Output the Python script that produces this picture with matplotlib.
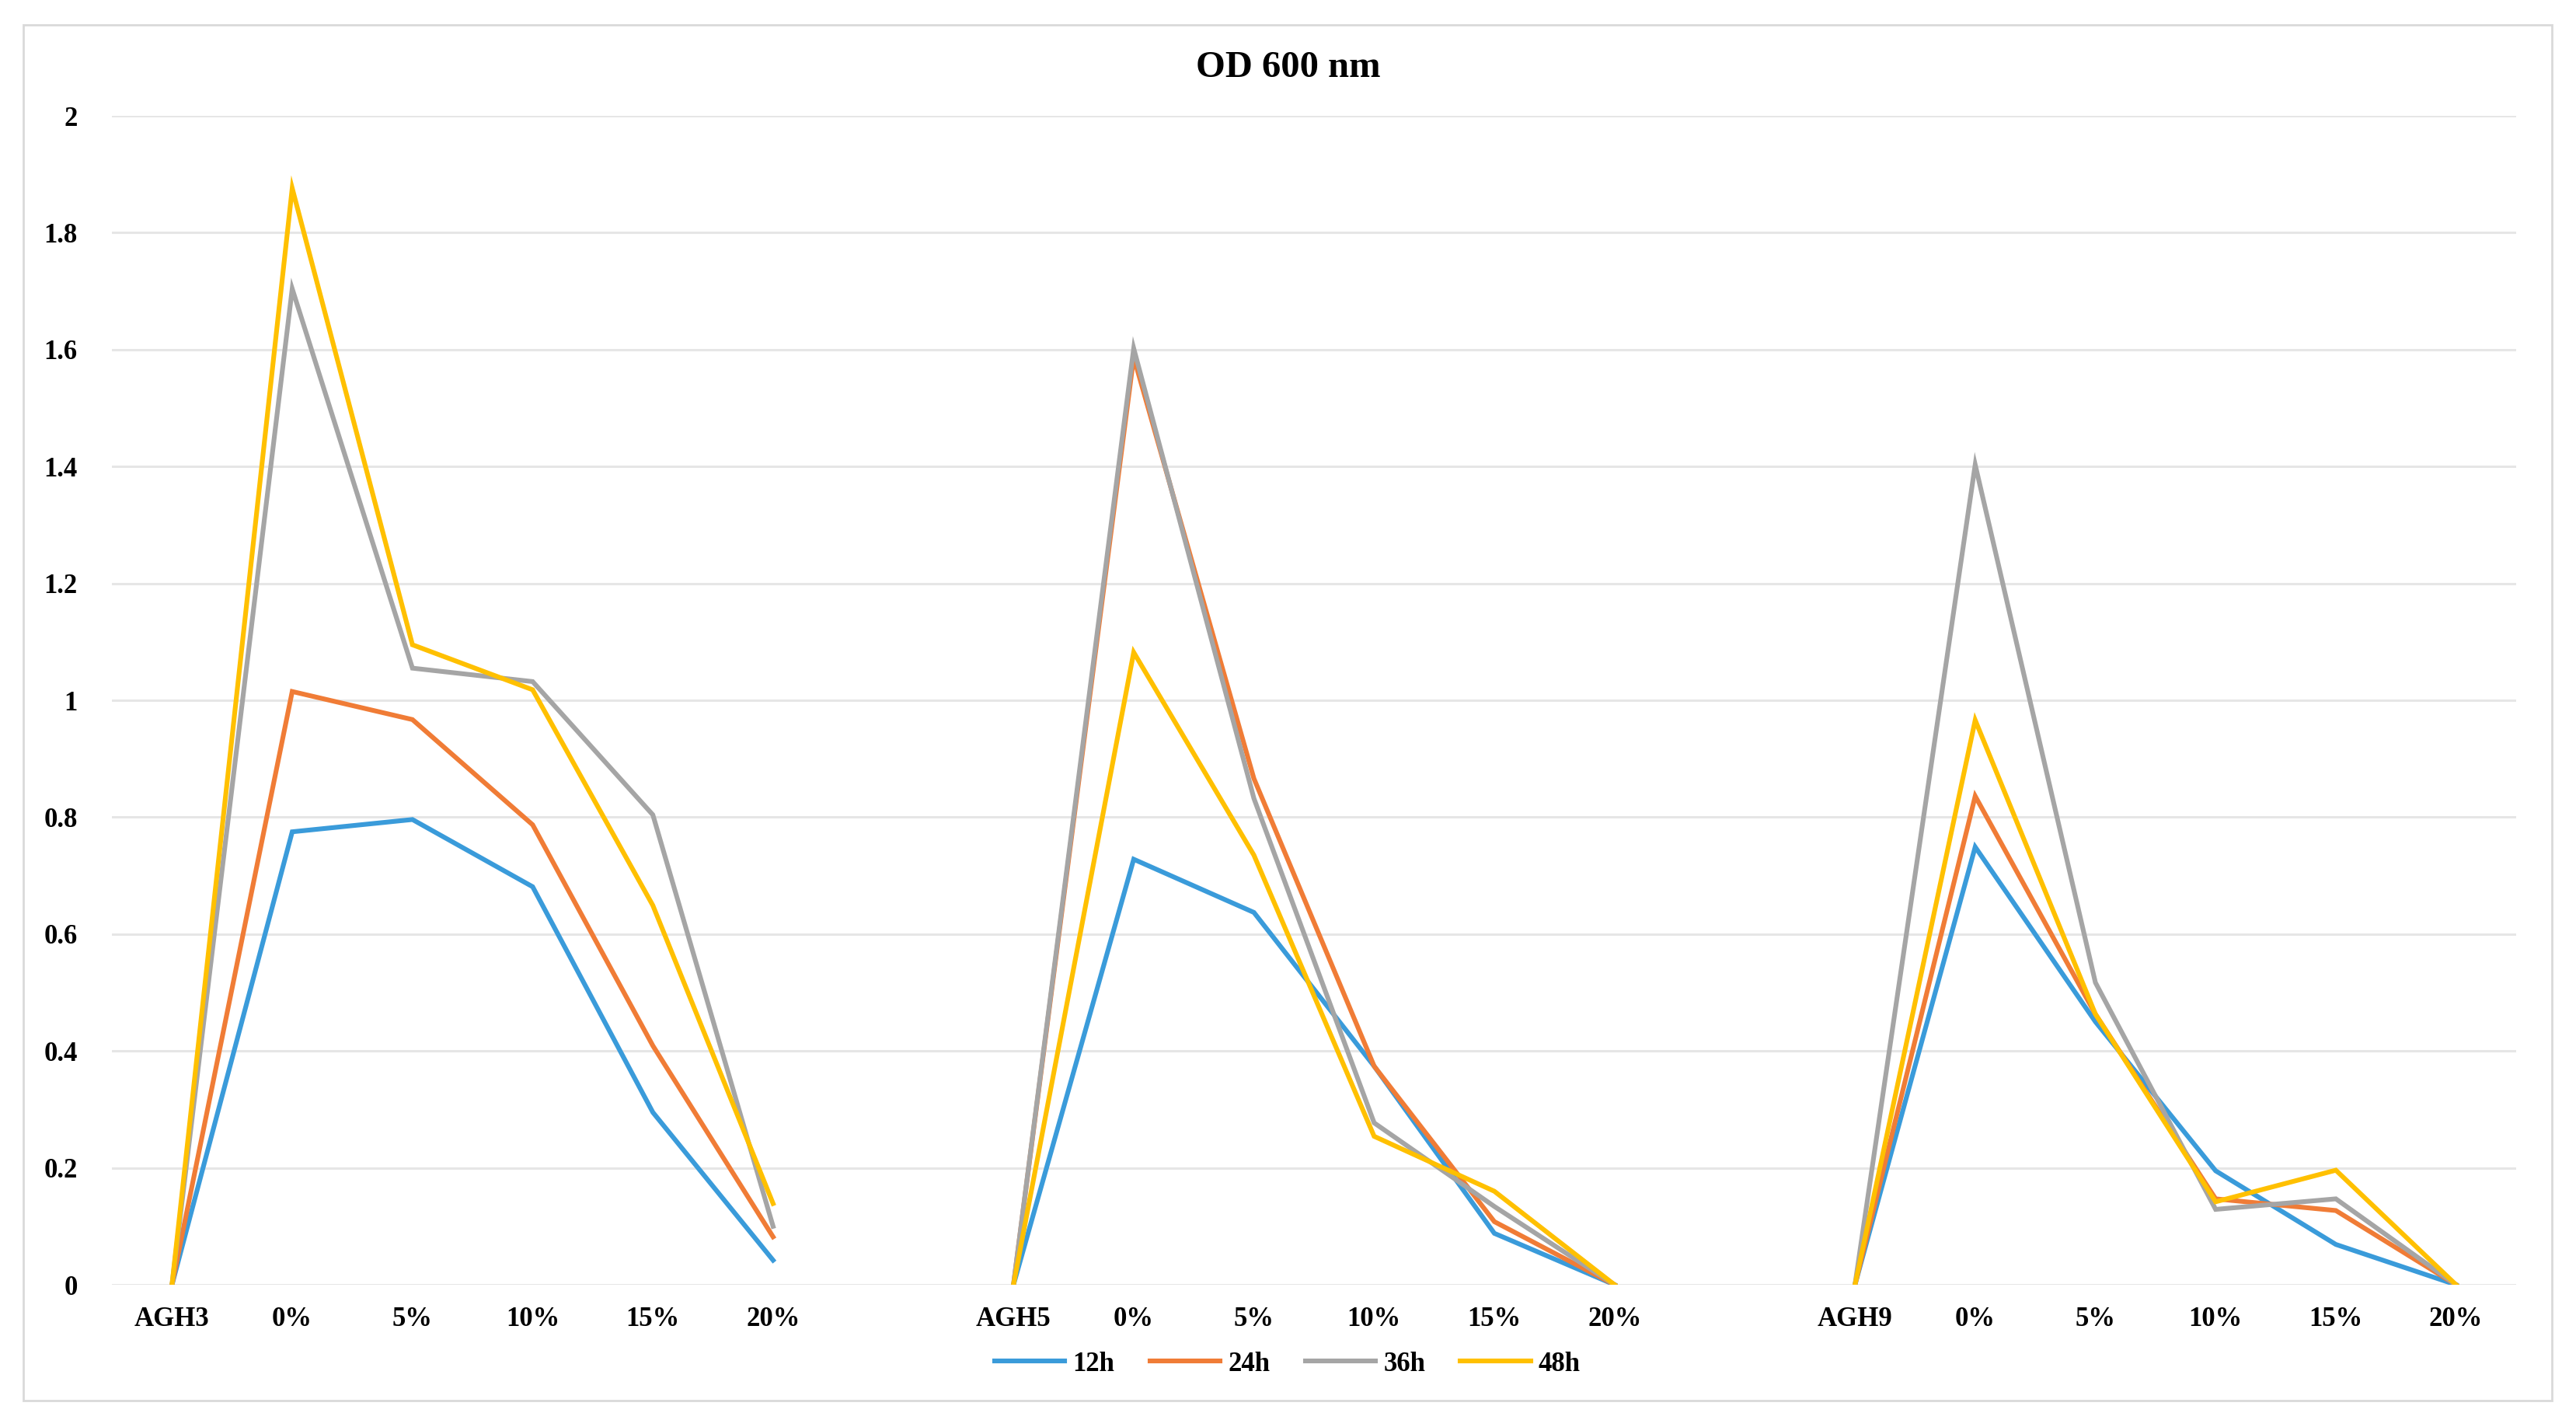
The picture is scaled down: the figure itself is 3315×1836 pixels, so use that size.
import numpy as np
import matplotlib
matplotlib.use("Agg")
import matplotlib.pyplot as plt
from matplotlib.patches import Rectangle

params = {'font.family': 'serif',
          'font.serif': ['Liberation Serif', 'DejaVu Serif'],
          'font.weight': 'bold',
          'font.size': 25}
matplotlib.rcParams.update(params)

# categories: three strains, each followed by salt levels, with a blank slot between groups
groups = ['AGH3', 'AGH5', 'AGH9']
levels = ['0%', '5%', '10%', '15%', '20%']

# OD600 values per series, one row per group: [strain, 0%, 5%, 10%, 15%, 20%]
od_12h = [[0, 0.775, 0.796, 0.681, 0.295, 0.042],
          [0, 0.728, 0.637, 0.374, 0.088, 0.0],
          [0, 0.749, 0.450, 0.195, 0.069, 0.0]]
od_24h = [[0, 1.015, 0.967, 0.787, 0.409, 0.082],
          [0, 1.587, 0.866, 0.374, 0.108, 0.0],
          [0, 0.836, 0.463, 0.147, 0.127, 0.0]]
od_36h = [[0, 1.704, 1.055, 1.032, 0.804, 0.100],
          [0, 1.602, 0.832, 0.277, 0.134, 0.0],
          [0, 1.403, 0.517, 0.129, 0.147, 0.0]]
od_48h = [[0, 1.876, 1.095, 1.018, 0.649, 0.139],
          [0, 1.082, 0.735, 0.254, 0.160, 0.0],
          [0, 0.966, 0.463, 0.142, 0.196, 0.0]]

series = [('12h', od_12h, '#3A9BDA'),
          ('24h', od_24h, '#F07C36'),
          ('36h', od_36h, '#A5A5A5'),
          ('48h', od_48h, '#FFC000')]

labels = []
for i, g in enumerate(groups):
    labels += [g] + levels
    if i < len(groups) - 1:
        labels.append('')


def flatten(rows):
    out = []
    for i, r in enumerate(rows):
        out += list(r)
        if i < len(rows) - 1:
            out.append(np.nan)
    return np.array(out, dtype=float)


W, H = 3315, 1836
fig = plt.figure(figsize=(W / 100, H / 100), dpi=100)
fig.patches.append(Rectangle((30 / W, 1 - 1802 / H), 3254 / W, 1770 / H,
                             transform=fig.transFigure, fill=False,
                             edgecolor='#D9D9D9', linewidth=2))

ax = fig.add_axes([144 / W, 1 - 1653 / H, (3238 - 144) / W, (1653 - 149) / H])
x = np.arange(len(labels))
for name, rows, col in series:
    ax.plot(x, flatten(rows), color=col, linewidth=4.4, label=name,
            solid_joinstyle='miter')

ax.set_xlim(-0.5, len(labels) - 0.5)
ax.set_ylim(0, 2)
ax.set_yticks(np.arange(0, 2.01, 0.2))
ax.set_yticklabels(['0', '0.2', '0.4', '0.6', '0.8', '1', '1.2', '1.4', '1.6', '1.8', '2'])
ax.set_xticks(x)
ax.set_xticklabels(labels)
ax.tick_params(length=0)
ax.tick_params(axis='y', pad=32)
ax.tick_params(axis='x', pad=20)
for s in ax.spines.values():
    s.set_visible(False)
ax.yaxis.grid(True, color='#E6E6E6', linewidth=2.2)
ax.set_axisbelow(True)

fig.text(0.5, 1 - 87 / H, 'OD 600 nm', ha='center', va='center', fontsize=35,
         fontweight='bold')

fig.legend(loc='center', bbox_to_anchor=(1657 / W, 1 - 1755 / H), ncol=4,
           frameon=False, handlelength=2.6, handletextpad=0.3,
           columnspacing=1.3, fontsize=25)

fig.savefig('out.png', dpi=100)
